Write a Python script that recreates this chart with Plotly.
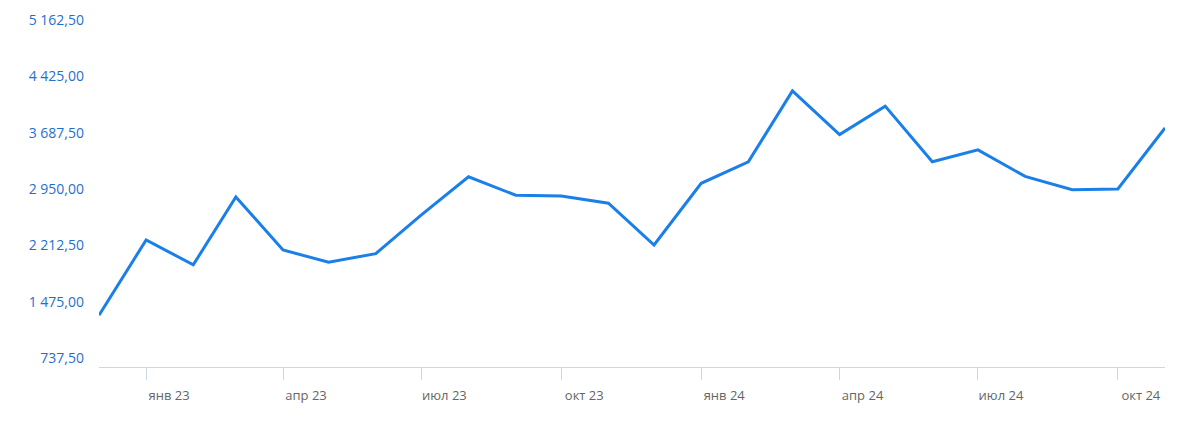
import plotly.graph_objects as go

months = ["2022-12-01", "2023-01-01", "2023-02-01", "2023-03-01", "2023-04-01", "2023-05-01",
          "2023-06-01", "2023-07-01", "2023-08-01", "2023-09-01", "2023-10-01", "2023-11-01",
          "2023-12-01", "2024-01-01", "2024-02-01", "2024-03-01", "2024-04-01", "2024-05-01",
          "2024-06-01", "2024-07-01", "2024-08-01", "2024-09-01", "2024-10-01", "2024-11-01"]
values = [1297, 2284, 1958, 2848, 2153, 1992,
          2105, 2613, 3112, 2870, 2860, 2766,
          2218, 3026, 3308, 4237, 3664, 4037,
          3308, 3464, 3117, 2943, 2952, 3750]

x_tick_vals = ["2023-01-01", "2023-04-01", "2023-07-01", "2023-10-01",
               "2024-01-01", "2024-04-01", "2024-07-01", "2024-10-01"]
x_tick_text = ["янв 23", "апр 23", "июл 23", "окт 23", "янв 24", "апр 24", "июл 24", "окт 24"]
y_tick_vals = [737.5, 1475, 2212.5, 2950, 3687.5, 4425, 5162.5]
y_tick_text = ["737,50", "1 475,00", "2 212,50", "2 950,00", "3 687,50", "4 425,00", "5 162,50"]

fig = go.Figure()
fig.add_trace(go.Scatter(
    x=months, y=values, mode="lines",
    line=dict(color="#1b7fe8", width=3),
    hoverinfo="skip", cliponaxis=True,
))

fig.update_layout(
    width=1192, height=420,
    margin=dict(l=91, r=35, t=2, b=61),
    paper_bgcolor="white", plot_bgcolor="white",
    showlegend=False,
    font=dict(family="Open Sans, Lato, sans-serif"),
    xaxis=dict(
        type="date",
        range=["2022-12-01", "2024-11-01"],
        tickvals=x_tick_vals, ticktext=x_tick_text,
        showgrid=False, zeroline=False,
        showline=True, linecolor="#ccd6eb", linewidth=1,
        ticks="outside", ticklen=12, tickcolor="#ccd6eb", tickwidth=1,
        tickfont=dict(size=13, color="#666666"),
        ticklabelshift=23, ticklabelstandoff=4,
    ),
    yaxis=dict(
        range=[620, 5270],
        tickvals=y_tick_vals, ticktext=y_tick_text,
        showgrid=False, zeroline=False, showline=False,
        ticks="", ticklabelstandoff=14,
        tickfont=dict(size=14, color="#1f6fd1"),
    ),
)

fig.write_html("out.html")
